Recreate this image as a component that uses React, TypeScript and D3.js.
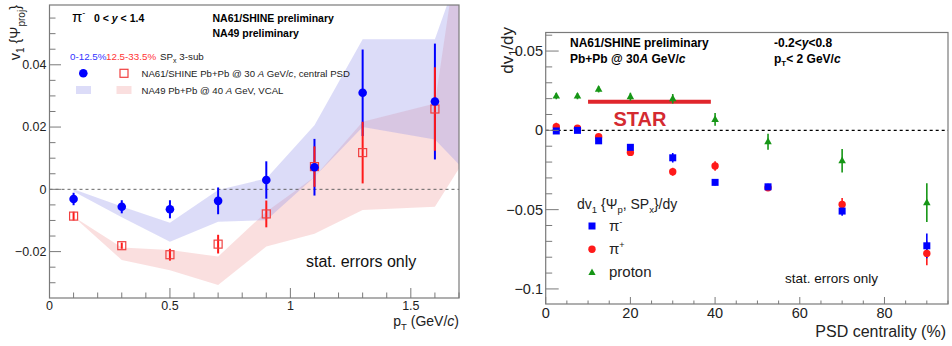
import React from 'react';
import * as d3 from 'd3';

// ---- left panel: v1 vs pT ----
const ptBins = [0.1, 0.3, 0.5, 0.7, 0.9, 1.1, 1.3, 1.6];
const v1Central = [-0.0031, -0.0056, -0.0064, -0.0037, 0.003, 0.0071, 0.031, 0.0282];
const v1CentralErr = [0.002, 0.0021, 0.0029, 0.0043, 0.006, 0.0091, 0.0139, 0.0186];
const v1Mid = [-0.0086, -0.0181, -0.021, -0.0176, -0.0079, 0.0073, 0.0118, 0.0258];
const v1MidErr = [0.0014, 0.001, 0.0019, 0.003, 0.0043, 0.0065, 0.0099, 0.0134];

// NA49 bands (last point is outside the frame)
const bandPt = [0.1, 0.3, 0.5, 0.7, 0.9, 1.1, 1.3, 1.6, 1.8];
const na49CentralHi = [0.0, -0.0055, -0.0107, -0.0002, 0.0035, 0.0206, 0.0482, 0.0482, 0.092];
const na49CentralLo = [-0.0007, -0.009, -0.0168, -0.0104, -0.0099, 0.004, 0.02, 0.016, 0.0];
const na49MidHi = [-0.0088, -0.0187, -0.0195, -0.0216, -0.0072, 0.004, 0.0217, 0.0276, 0.132];
const na49MidLo = [-0.0088, -0.0227, -0.026, -0.0307, -0.0184, -0.0143, -0.0066, -0.0056, 0.019];

const leftXTicks = [0, 0.5, 1, 1.5];
const leftYTicks = [-0.02, 0, 0.02, 0.04];

// ---- right panel: dv1/dy vs centrality ----
const centrality = [2.5, 7.5, 12.5, 20, 30, 40, 52.5, 70, 90];
const piMinus = [-0.0004, 0.0, -0.0066, -0.0107, -0.0173, -0.0328, -0.0356, -0.0509, -0.0728];
const piMinusErr = [0.0015, 0.0015, 0.0015, 0.0015, 0.003, 0.002, 0.002, 0.003, 0.0078];
const piPlus = [0.0023, 0.0013, -0.004, -0.0139, -0.0261, -0.0225, -0.0362, -0.0467, -0.0776];
const piPlusErr = [0.0025, 0.0015, 0.0015, 0.002, 0.0025, 0.003, 0.002, 0.004, 0.0075];
const proton = [0.0216, 0.0216, 0.0259, 0.0212, 0.0199, 0.0069, -0.0072, -0.0192, -0.0456];
const protonErr = [0.002, 0.002, 0.002, 0.0025, 0.003, 0.004, 0.005, 0.0074, 0.0122];
const starRange = [10, 39];
const starValue = 0.018;

const rightXTicks = [0, 20, 40, 60, 80];
const rightYTicks = [-0.1, -0.05, 0, 0.05];

const FONT = 'Liberation Sans, Arial, Helvetica, sans-serif';
const BLUE = '#0000ff';
const RED = '#ff1a1a';
const GREEN = '#169616';

const xL = d3.scaleLinear().domain([0, 1.7]).range([49.5, 459]);
const yL = d3.scaleLinear().domain([-0.0349, 0.0592]).range([298, 5]);
const xR = d3.scaleLinear().domain([0, 95]).range([545.7, 948]);
const yR = d3.scaleLinear().domain([-0.1095, 0.0617]).range([304, 32.5]);

function rangeStep(a: number, b: number, s: number) {
  const out: number[] = [];
  for (let i = 0; a + i * s <= b + 1e-9; i++) out.push(+(a + i * s).toFixed(6));
  return out;
}

const fmtL = (v: number) => (v === 0 ? '0' : v < 0 ? '\u2212' + d3.format('.2f')(-v) : d3.format('.2f')(v));
const fmtR = (v: number) => {
  if (v === 0) return '0';
  const s = Math.abs(v) === 0.1 ? '0.1' : d3.format('.2f')(Math.abs(v));
  return v < 0 ? '\u2212' + s : s;
};

const band = (lo: number[], hi: number[]) =>
  d3
    .area<number>()
    .x((d) => xL(d))
    .y0((_, i) => yL(lo[i]))
    .y1((_, i) => yL(hi[i]))(bandPt) as string;

const LeftPanel = () => {
  const [x0, x1] = xL.range();
  const [y0, y1] = yL.range();
  const minorX = rangeStep(0, 1.7, 0.1);
  const minorY = rangeStep(-0.03, 0.055, 0.005);
  return (
    <g fontFamily={FONT}>
      <defs>
        <clipPath id="clipL">
          <rect x={x0} y={y1} width={x1 - x0} height={y0 - y1} />
        </clipPath>
      </defs>
      <g clipPath="url(#clipL)">
        <path d={band(na49MidLo, na49MidHi)} fill="rgb(240,150,150)" fillOpacity={0.3} />
        <path d={band(na49CentralLo, na49CentralHi)} fill="rgb(150,150,235)" fillOpacity={0.33} />
      </g>
      <line x1={x0} x2={x1} y1={yL(0)} y2={yL(0)} stroke="#555" strokeDasharray="3,3" strokeWidth={0.9} />

      {/* error bars */}
      {ptBins.map((p, i) => (
        <line key={'be' + i} x1={xL(p)} x2={xL(p)} y1={yL(v1Central[i] - v1CentralErr[i])} y2={yL(v1Central[i] + v1CentralErr[i])} stroke={BLUE} strokeWidth={2} />
      ))}
      {ptBins.map((p, i) => (
        <line key={'re' + i} x1={xL(p)} x2={xL(p)} y1={yL(v1Mid[i] - v1MidErr[i])} y2={yL(v1Mid[i] + v1MidErr[i])} stroke={RED} strokeWidth={2} />
      ))}
      {ptBins.map((p, i) => (
        <rect key={'rs' + i} x={xL(p) - 4} y={yL(v1Mid[i]) - 4} width={8} height={8} fill="none" stroke="#f04040" strokeWidth={1.2} />
      ))}
      {ptBins.map((p, i) => (
        <circle key={'bc' + i} cx={xL(p)} cy={yL(v1Central[i])} r={4.3} fill={BLUE} />
      ))}

      {/* frame and axes */}
      <rect x={x0} y={y1} width={x1 - x0} height={y0 - y1} fill="none" stroke="#7a7a7a" strokeWidth={1.2} />
      {minorX.map((t) => {
        const major = leftXTicks.some((m) => Math.abs(m - t) < 1e-6);
        return <line key={'mx' + t} x1={xL(t)} x2={xL(t)} y1={y0} y2={y0 - (major ? 10 : 5.5)} stroke="#7a7a7a" strokeWidth={1} />;
      })}
      {minorY.map((t) => {
        const major = leftYTicks.some((m) => Math.abs(m - t) < 1e-6);
        return <line key={'my' + t} x1={x0} x2={x0 + (major ? 11.5 : 6)} y1={yL(t)} y2={yL(t)} stroke="#7a7a7a" strokeWidth={1} />;
      })}
      {leftXTicks.map((t) => (
        <text key={'xl' + t} x={xL(t)} y={310} fontSize={12.5} textAnchor="middle" fill="#222">
          {t}
        </text>
      ))}
      {leftYTicks.map((t) => (
        <text key={'yl' + t} x={46.5} y={yL(t) + 4.3} fontSize={12.5} textAnchor="end" fill="#222">
          {fmtL(t)}
        </text>
      ))}
      <text x={459} y={326} fontSize={14} textAnchor="end" fill="#222">
        p<tspan dy={4} fontSize={9.5}>T</tspan>
        <tspan dy={-4}> (GeV/</tspan>
        <tspan fontStyle="italic">c</tspan>)
      </text>
      <text transform="translate(20,5) rotate(-90)" fontSize={14.5} textAnchor="end" fill="#222">
        v<tspan dy={4} fontSize={10}>1</tspan>
        <tspan dy={-4}> {'{'}Ψ</tspan>
        <tspan dy={5} fontSize={10}>proj</tspan>
        <tspan dy={-5}>{'}'}</tspan>
      </text>

      {/* header */}
      <text x={72} y={22} fontSize={15}>
        π<tspan dy={-6} fontSize={9}>-</tspan>
      </text>
      <text x={94} y={21.5} fontSize={10.5} fontWeight="bold">
        0 {'<'} <tspan fontStyle="italic">y</tspan> {'<'} 1.4
      </text>
      <text x={212.5} y={21.5} fontSize={10.5} fontWeight="bold">NA61/SHINE preliminary</text>
      <text x={212.5} y={37} fontSize={10.5} fontWeight="bold">NA49 preliminary</text>

      {/* legend */}
      <text x={70} y={60} fontSize={9.8} fill="#3333ff">0-12.5%</text>
      <text x={106} y={60} fontSize={9.8} fill="#ff3333">12.5-33.5%</text>
      <text x={160} y={60} fontSize={9.8} fill="#222">
        SP<tspan dy={2.5} fontSize={7}>x</tspan>
        <tspan dy={-2.5}> 3-sub</tspan>
      </text>
      <circle cx={83.3} cy={73.3} r={4.3} fill={BLUE} />
      <rect x={120} y={69.3} width={8} height={8} fill="none" stroke="#f04040" strokeWidth={1.2} />
      <text x={141.5} y={77} fontSize={9.6} fill="#222">
        NA61/SHINE Pb+Pb @ 30 <tspan fontStyle="italic">A</tspan> GeV/<tspan fontStyle="italic">c</tspan>, central PSD
      </text>
      <rect x={76} y={86} width={15} height={8} fill="rgb(150,150,235)" fillOpacity={0.33} />
      <rect x={116.5} y={86} width={15} height={8} fill="rgb(240,150,150)" fillOpacity={0.3} />
      <text x={141.5} y={93.5} fontSize={9.6} fill="#222">
        NA49 Pb+Pb @ 40 <tspan fontStyle="italic">A</tspan> GeV, VCAL
      </text>
      <text x={306} y={267} fontSize={16} fill="#111">stat. errors only</text>
    </g>
  );
};

const RightPanel = () => {
  const [x0, x1] = xR.range();
  const [y0, y1] = yR.range();
  const minorX = rangeStep(0, 95, 5);
  const minorY = rangeStep(-0.1, 0.06, 0.01);
  const errBar = (vals: number[], errs: number[], color: string, key: string) =>
    centrality.map((c, i) => (
      <line key={key + i} x1={xR(c)} x2={xR(c)} y1={yR(vals[i] - errs[i])} y2={yR(vals[i] + errs[i])} stroke={color} strokeWidth={1.6} />
    ));
  const tri = (cx: number, cy: number, s: number) => `M${cx},${cy - s}L${cx + s * 0.9},${cy + s * 0.6}L${cx - s * 0.9},${cy + s * 0.6}Z`;
  return (
    <g fontFamily={FONT}>
      <line x1={x0} x2={x1} y1={yR(0)} y2={yR(0)} stroke="#000" strokeDasharray="3,3" strokeWidth={1.4} />
      <line x1={xR(starRange[0])} x2={xR(starRange[1])} y1={yR(starValue)} y2={yR(starValue)} stroke="#e0262c" strokeWidth={4} />
      <text x={640} y={125.5} fontSize={20} fontWeight="bold" fill="#d42a30" textAnchor="middle">STAR</text>

      {errBar(proton, protonErr, GREEN, 'ge')}
      {errBar(piPlus, piPlusErr, RED, 're')}
      {errBar(piMinus, piMinusErr, BLUE, 'be')}
      {centrality.map((c, i) => (
        <path key={'gt' + i} d={tri(xR(c), yR(proton[i]), 4.2)} fill={GREEN} />
      ))}
      {centrality.map((c, i) => (
        <circle key={'rc' + i} cx={xR(c)} cy={yR(piPlus[i])} r={3.7} fill={RED} />
      ))}
      {centrality.map((c, i) => (
        <rect key={'bs' + i} x={xR(c) - 3.5} y={yR(piMinus[i]) - 3.5} width={7} height={7} fill={BLUE} />
      ))}

      <rect x={x0} y={y1} width={x1 - x0} height={y0 - y1} fill="none" stroke="#7a7a7a" strokeWidth={1.2} />
      {minorX.map((t) => {
        const major = rightXTicks.includes(t);
        return <line key={'mx' + t} x1={xR(t)} x2={xR(t)} y1={y0} y2={y0 - (major ? 7 : 3.5)} stroke="#7a7a7a" strokeWidth={1} />;
      })}
      {minorY.map((t) => {
        const major = rightYTicks.some((m) => Math.abs(m - t) < 1e-6);
        return <line key={'my' + t} x1={x0} x2={x0 + (major ? 13 : 6.5)} y1={yR(t)} y2={yR(t)} stroke="#7a7a7a" strokeWidth={1} />;
      })}
      {rightXTicks.map((t) => (
        <text key={'xl' + t} x={xR(t)} y={318} fontSize={14.5} textAnchor="middle" fill="#222">
          {t}
        </text>
      ))}
      {rightYTicks.map((t) => (
        <text key={'yl' + t} x={543} y={yR(t) + 5} fontSize={14.5} textAnchor="end" fill="#222">
          {fmtR(t)}
        </text>
      ))}
      <text x={946} y={337} fontSize={16} textAnchor="end" fill="#222">PSD centrality (%)</text>
      <text transform="translate(513,27) rotate(-90)" fontSize={17} textAnchor="end" fill="#222">
        dv<tspan dy={4} fontSize={11}>1</tspan>
        <tspan dy={-4}>/dy</tspan>
      </text>

      <text x={570} y={47} fontSize={12} fontWeight="bold">NA61/SHINE preliminary</text>
      <text x={570} y={62.5} fontSize={12} fontWeight="bold">
        Pb+Pb @ 30<tspan fontStyle="italic">A</tspan> GeV/<tspan fontStyle="italic">c</tspan>
      </text>
      <text x={774} y={47} fontSize={12} fontWeight="bold">
        -0.2{'<'}<tspan fontStyle="italic">y</tspan>{'<'}0.8
      </text>
      <text x={774} y={62.5} fontSize={12} fontWeight="bold">
        p<tspan dy={3} fontSize={8}>T</tspan>
        <tspan dy={-3}>{'<'} 2 GeV/</tspan>
        <tspan fontStyle="italic">c</tspan>
      </text>

      <text x={577} y={209} fontSize={14} fill="#222">
        dv<tspan dy={3.5} fontSize={9.5}>1</tspan>
        <tspan dy={-3.5}> {'{'}Ψ</tspan>
        <tspan dy={3.5} fontSize={9.5}>p</tspan>
        <tspan dy={-3.5}>, SP</tspan>
        <tspan dy={3.5} fontSize={9.5}>x</tspan>
        <tspan dy={-3.5}>{'}'}/dy</tspan>
      </text>
      <rect x={588.5} y={222.5} width={7} height={7} fill={BLUE} />
      <text x={609} y={231} fontSize={15} fill="#222">
        π<tspan dy={-6} fontSize={9}>-</tspan>
      </text>
      <circle cx={592} cy={249.3} r={3.7} fill={RED} />
      <text x={609} y={254} fontSize={15} fill="#222">
        π<tspan dy={-6} fontSize={9}>+</tspan>
      </text>
      <path d={tri(592, 272.5, 4)} fill={GREEN} />
      <text x={609} y={277} fontSize={15} fill="#222">proton</text>
      <text x={785} y={282.5} fontSize={13.5} fill="#111">stat. errors only</text>
    </g>
  );
};

export default function App() {
  return (
    <svg width={952} height={346} style={{ position: 'absolute', left: 0, top: 0, background: '#fff' }}>
      <rect width={952} height={346} fill="#fff" />
      <LeftPanel />
      <RightPanel />
    </svg>
  );
}
